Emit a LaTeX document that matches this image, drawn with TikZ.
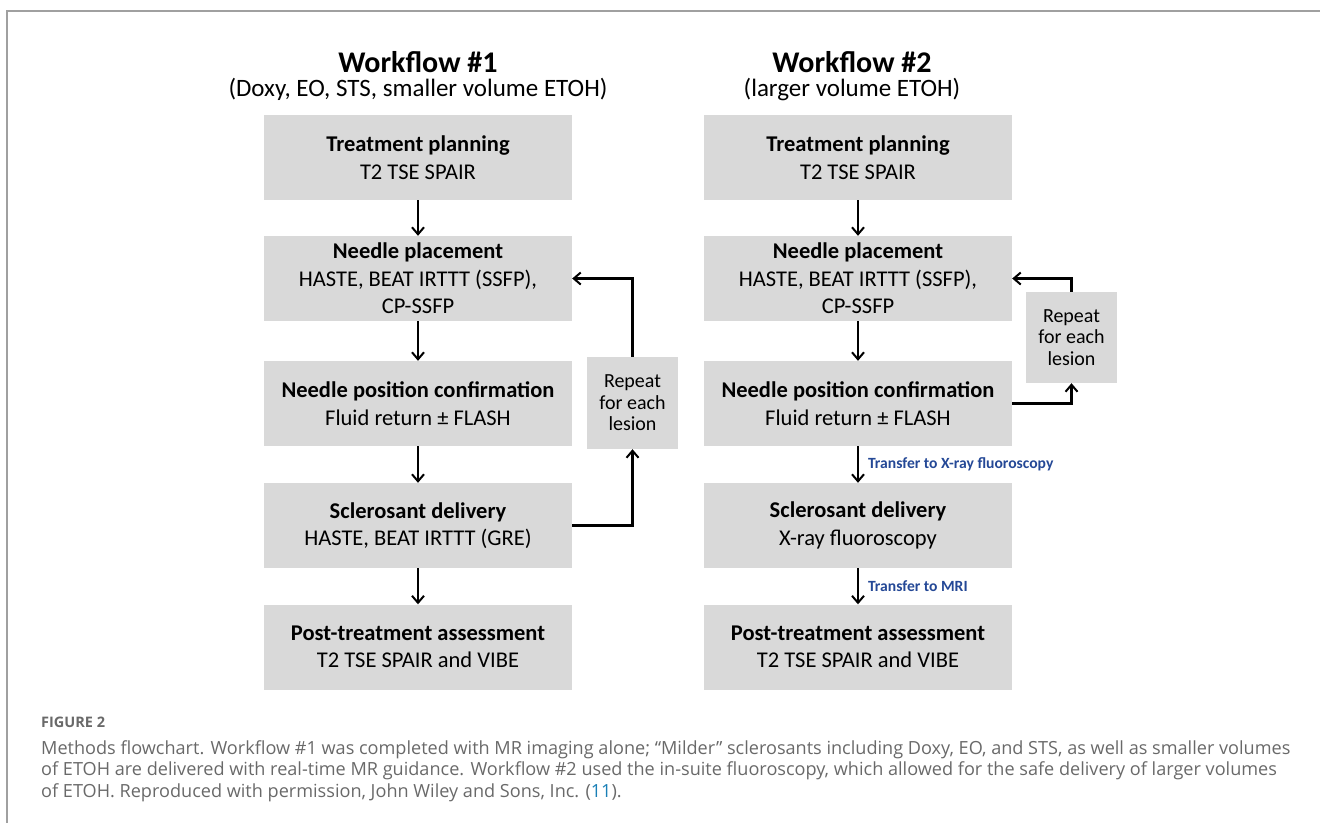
\documentclass[tikz,border=0pt]{standalone}
\usepackage{fontspec}
\setmainfont{Carlito}
\newfontfamily\capfont{Open Sans}
\usetikzlibrary{arrows.meta,positioning}
\definecolor{boxgray}{RGB}{217,217,217}
\definecolor{linkblue}{RGB}{36,72,150}
\definecolor{capgray}{RGB}{105,105,105}
\definecolor{framegray}{RGB}{160,160,160}
\begin{document}
\begin{tikzpicture}[x=1pt,y=-1pt,
    stage/.style={fill=boxgray,minimum width=308pt,minimum height=85pt,inner sep=0pt,
        align=center,font=\fontsize{22.5}{27.5}\selectfont},
    repeatbox/.style={fill=boxgray,minimum width=91pt,minimum height=92pt,inner sep=0pt,
        align=center,font=\fontsize{20}{21.5}\selectfont},
    flow/.style={line width=2.1pt,-{Straight Barb[length=7pt,width=12pt,line width=2pt]}},
    transfer/.style={midway,right=9pt,inner sep=0pt,text=linkblue,
        font=\fontsize{15.6}{18}\selectfont\bfseries},
    wftitle/.style={inner sep=0pt,font=\fontsize{30}{36}\selectfont\bfseries},
    wfsub/.style={inner sep=0pt,font=\fontsize{25}{30}\selectfont}]
    \useasboundingbox (0,0) rectangle (1320,823);
    % frame
    \draw[framegray,line width=1.2pt] (1320,11) -- (7,11) -- (7,823);
    % left hand
    \node[wftitle] (wf1) at (418,62) {Workflow \#1};
    \node[wfsub] (sub1) at (418,89) {(Doxy, EO, STS, smaller volume ETOH)};
    \node[stage] (tp1) at (418,157.5) {\textbf{Treatment planning}\\T2 TSE SPAIR};
    \node[stage] (np1) at (418,278.5) {\textbf{Needle placement}\\HASTE, BEAT IRTTT (SSFP),\\CP-SSFP};
    \node[stage] (pc1) at (418,403.5) {\textbf{Needle position confirmation}\\Fluid return ± FLASH};
    \node[stage] (sd1) at (418,525.5) {\textbf{Sclerosant delivery}\\HASTE, BEAT IRTTT (GRE)};
    \node[stage] (pa1) at (418,647) {\textbf{Post-treatment assessment}\\T2 TSE SPAIR and VIBE};
    \node[repeatbox] (rep1) at (632.5,403) {Repeat\\for each\\lesion};
    \draw[flow] (tp1) -- (np1);
    \draw[flow] (np1) -- (pc1);
    \draw[flow] (pc1) -- (sd1);
    \draw[flow] (sd1) -- (pa1);
    \draw[flow] (sd1.east) -| (rep1.south);
    \draw[flow] (rep1.north) |- (np1.east);
    % right hand
    \node[wftitle] (wf2) at (852,62) {Workflow \#2};
    \node[wfsub] (sub2) at (852,89) {(larger volume ETOH)};
    \node[stage] (tp2) at (858,157.5) {\textbf{Treatment planning}\\T2 TSE SPAIR};
    \node[stage] (np2) at (858,278.5) {\textbf{Needle placement}\\HASTE, BEAT IRTTT (SSFP),\\CP-SSFP};
    \node[stage] (pc2) at (858,403.5) {\textbf{Needle position confirmation}\\Fluid return ± FLASH};
    \node[stage] (sd2) at (858,525.5) {\textbf{Sclerosant delivery}\\X-ray fluoroscopy};
    \node[stage] (pa2) at (858,647) {\textbf{Post-treatment assessment}\\T2 TSE SPAIR and VIBE};
    \node[repeatbox,minimum height=91pt] (rep2) at (1071.5,337.5) {Repeat\\for each\\lesion};
    \draw[flow] (tp2) -- (np2);
    \draw[flow] (np2) -- (pc2);
    \draw[flow] (pc2) -- (sd2) node[transfer] {Transfer to X-ray fluoroscopy};
    \draw[flow] (sd2) -- (pa2) node[transfer] {Transfer to MRI};
    \draw[flow] (pc2.east) -| (rep2.south);
    \draw[flow] (rep2.north) |- (np2.east);
    % caption
    \node[anchor=west,inner sep=0pt,text=capgray,font=\capfont\fontsize{14.5}{16}\selectfont\bfseries]
        (fig) at (41,722) {FIGURE 2};
    \node[anchor=north west,inner sep=0pt,align=left,text=capgray,
        font=\capfont\fontsize{18.1}{21.5}\selectfont] (cap) at (41,740)
        {Methods flowchart. Workflow \#1 was completed with MR imaging alone; “Milder” sclerosants including Doxy, EO, and STS, as well as smaller volumes\\
         of ETOH are delivered with real-time MR guidance. Workflow \#2 used the in-suite fluoroscopy, which allowed for the safe delivery of larger volumes\\
         of ETOH. Reproduced with permission, John Wiley and Sons, Inc. ({\color{linkblue!70!cyan}11}).};
\end{tikzpicture}
\end{document}
